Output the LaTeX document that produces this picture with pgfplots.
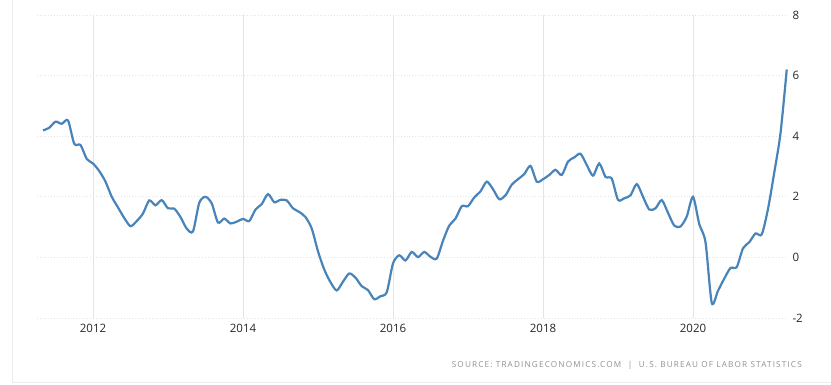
\documentclass[border=0pt]{standalone}
\usepackage{pgfplots}
\pgfplotsset{compat=1.18}
\usepackage{fontspec}
\setmainfont{Open Sans}
\definecolor{linec}{RGB}{72,132,186}
\definecolor{gridc}{RGB}{228,228,228}
\definecolor{tickc}{RGB}{40,40,40}
\definecolor{srcc}{RGB}{145,145,145}
\begin{document}
\begin{tikzpicture}[x=1pt,y=1pt]
\useasboundingbox (0,0) rectangle (831,385);
\fill[white] (0,0) rectangle (831,385);
\draw[gridc!70,line width=0.8pt] (12,385) -- (12,3) -- (831,3);
\begin{axis}[
  at={(37pt,67pt)}, anchor=south west,
  scale only axis, width=750pt, height=303pt,
  xmin=2011.2533, xmax=2021.2533,
  ymin=-2, ymax=8,
  xtick={2012,2014,2016,2018,2020},
  xticklabels={2012,2014,2016,2018,2020},
  ytick={-2,0,2,4,6,8},
  yticklabel pos=right,
  axis line style={draw=none},
  major tick length=0pt,
  xmajorgrids, ymajorgrids,
  major x grid style={gridc, line width=0.8pt},
  major y grid style={gridc, line width=0.8pt, dotted},
  tick label style={font=\fontsize{11.5}{13}\selectfont, text=tickc},
  /pgf/number format/assume math mode=true,
  xticklabel style={yshift=-3pt},
  yticklabel style={xshift=2pt},
  clip=false,
]
\addplot[linec, line width=2.2pt, smooth, tension=0.45] table {
x y
2011.3333 4.19
2011.4167 4.28
2011.5000 4.48
2011.5833 4.41
2011.6667 4.52
2011.7500 3.75
2011.8333 3.71
2011.9167 3.25
2012.0000 3.10
2012.0833 2.85
2012.1667 2.50
2012.2500 2.00
2012.3333 1.65
2012.4167 1.30
2012.5000 1.03
2012.5833 1.20
2012.6667 1.45
2012.7500 1.88
2012.8333 1.72
2012.9167 1.89
2013.0000 1.62
2013.0833 1.61
2013.1667 1.33
2013.2500 0.95
2013.3333 0.86
2013.4167 1.80
2013.5000 2.00
2013.5833 1.78
2013.6667 1.15
2013.7500 1.28
2013.8333 1.12
2013.9167 1.18
2014.0000 1.27
2014.0833 1.20
2014.1667 1.58
2014.2500 1.76
2014.3333 2.09
2014.4167 1.82
2014.5000 1.90
2014.5833 1.88
2014.6667 1.62
2014.7500 1.50
2014.8333 1.33
2014.9167 0.95
2015.0000 0.20
2015.0833 -0.40
2015.1667 -0.82
2015.2500 -1.09
2015.3333 -0.80
2015.4167 -0.53
2015.5000 -0.67
2015.5833 -0.95
2015.6667 -1.08
2015.7500 -1.38
2015.8333 -1.28
2015.9167 -1.15
2016.0000 -0.20
2016.0833 0.07
2016.1667 -0.10
2016.2500 0.18
2016.3333 0.01
2016.4167 0.18
2016.5000 0.02
2016.5833 -0.04
2016.6667 0.55
2016.7500 1.05
2016.8333 1.28
2016.9167 1.69
2017.0000 1.69
2017.0833 1.98
2017.1667 2.18
2017.2500 2.50
2017.3333 2.25
2017.4167 1.92
2017.5000 2.05
2017.5833 2.40
2017.6667 2.58
2017.7500 2.75
2017.8333 3.02
2017.9167 2.50
2018.0000 2.58
2018.0833 2.72
2018.1667 2.89
2018.2500 2.72
2018.3333 3.16
2018.4167 3.30
2018.5000 3.42
2018.5833 3.05
2018.6667 2.70
2018.7500 3.10
2018.8333 2.66
2018.9167 2.60
2019.0000 1.90
2019.0833 1.95
2019.1667 2.05
2019.2500 2.42
2019.3333 2.00
2019.4167 1.58
2019.5000 1.62
2019.5833 1.89
2019.6667 1.47
2019.7500 1.05
2019.8333 1.02
2019.9167 1.35
2020.0000 2.00
2020.0833 1.10
2020.1667 0.50
2020.2500 -1.50
2020.3333 -1.10
2020.4167 -0.70
2020.5000 -0.35
2020.5833 -0.32
2020.6667 0.30
2020.7500 0.50
2020.8333 0.79
2020.9167 0.76
2021.0000 1.60
2021.0833 2.80
2021.1667 4.10
2021.2500 6.20
};
\end{axis}
\node[anchor=east, text=srcc, inner sep=0pt, font=\fontsize{8.2}{9}\selectfont\addfontfeature{LetterSpace=14}] at (802,20) {SOURCE: TRADINGECONOMICS.COM \ | \ U.S. BUREAU OF LABOR STATISTICS};
\end{tikzpicture}
\end{document}
